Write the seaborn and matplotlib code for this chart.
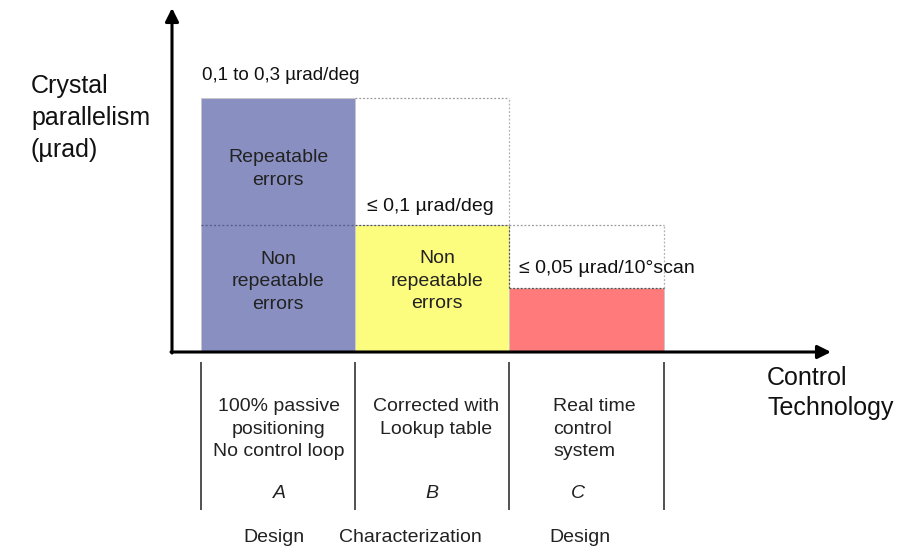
import matplotlib
matplotlib.use("Agg")
import matplotlib.pyplot as plt
import seaborn as sns
import pandas as pd
import numpy as np

# ---- data ----
categories = ["A", "B", "C"]
nonrep_level = [0.15, 0.15, 0.075]       # non repeatable error level (bar top for B, C)
repeat_part = [0.15, 0.0, 0.0]           # repeatable errors stacked on top
bar_colors = ["#8990C1", "#FCFC7E", "#FF7B7B"]
level_labels = ["0,1 to 0,3 µrad/deg", "≤ 0,1 µrad/deg", "≤ 0,05 µrad/10°scan"]
tech_labels = ["100% passive\npositioning\nNo control loop",
               "Corrected with\nLookup table",
               "Real time\ncontrol\nsystem"]
phase_labels = ["Design", "Characterization", "Design"]

totals = [a + b for a, b in zip(nonrep_level, repeat_part)]
df = pd.DataFrame({"tech": categories, "total": totals, "nonrep": nonrep_level})

sns.set_theme(style="white")
plt.rcParams["font.family"] = ["Liberation Sans", "DejaVu Sans"]

W, H = 915, 556
fig = plt.figure(figsize=(W / 100, H / 100), dpi=100)
ax = fig.add_axes([0, 0, 1, 1])

# pixel <-> data mapping of the canvas
X0, XS = 278.0, 154.3     # pixel x of category 0 centre, px per category
Y0, YS = 352.0, 846.7     # pixel y of zero, px per unit

def fx(px):
    return (px - X0) / XS

def fy(py):
    return (Y0 - py) / YS

sns.barplot(data=df, x="tech", y="total", hue="tech", palette=bar_colors,
            width=1.0, legend=False, ax=ax, saturation=1, edgecolor="#c8c8c8",
            linewidth=0.6)

ax.set_xlim(fx(0), fx(W))
ax.set_ylim(fy(H), fy(0))
ax.axis("off")

n = len(categories)
# dotted line separating repeatable / non repeatable in A and the top of B
ax.hlines(nonrep_level[0], -0.5, 0.5, colors="#5b5f8e", linestyles=(0, (1.5, 1.5)), lw=1.0)
for i in range(1, n):
    prev = totals[i - 1]
    cur = totals[i]
    # ghost box showing the level of previous technology
    ax.hlines(prev, i - 0.5, i + 0.5, colors="#9a9a9a", linestyles=(0, (1.5, 1.5)), lw=0.9)
    ax.vlines(i + 0.5, cur, prev, colors="#b0b0b0", linestyles=(0, (1.5, 1.5)), lw=0.9)
    ax.hlines(cur, i - 0.5, i + 0.5, colors="#555555", linestyles=(0, (1.5, 1.5)), lw=0.9)
ax.vlines(1.5, totals[2], totals[1], colors="#555555", linestyles=(0, (1.5, 1.5)), lw=0.9)

# axes arrows
ax.annotate("", xy=(fx(172), fy(8)), xytext=(fx(172), fy(353)),
            arrowprops=dict(arrowstyle="-|>", color="black", lw=2.2, mutation_scale=20,
                            shrinkA=0, shrinkB=0))
ax.annotate("", xy=(fx(831), fy(352)), xytext=(fx(171), fy(352)),
            arrowprops=dict(arrowstyle="-|>", color="black", lw=2.2, mutation_scale=20,
                            shrinkA=0, shrinkB=0))

# axis titles
ax.text(fx(31), fy(118), "Crystal\nparallelism\n(µrad)", ha="left", va="center",
        fontsize=18, color="#111111", linespacing=1.4)
ax.text(fx(767), fy(393), "Control\nTechnology", ha="left", va="center",
        fontsize=18, color="#111111", linespacing=1.36)

# level annotations above the bars
ax.text(-0.5 + 0.01, totals[0] + fy(76) - fy(98), level_labels[0], ha="left", va="center",
        fontsize=13.5, color="#111111")
ax.text(fx(367), totals[1] + fy(207) - fy(225), level_labels[1], ha="left", va="center",
        fontsize=14, color="#111111")
ax.text(fx(519), totals[2] + fy(268) - fy(288), level_labels[2], ha="left", va="center",
        fontsize=14, color="#111111")

# in-bar labels
ax.text(0.0, fy(169), "Repeatable\nerrors",
        ha="center", va="center", fontsize=14, color="#222222", linespacing=1.45)
ax.text(0.0, fy(282), "Non\nrepeatable\nerrors", ha="center", va="center",
        fontsize=14, color="#222222", linespacing=1.45)
ax.text(fx(437), fy(281), "Non\nrepeatable\nerrors", ha="center", va="center",
        fontsize=14, color="#222222", linespacing=1.45)

# lower section: dividers, technology descriptions, letters, phases
for k in range(n + 1):
    ax.vlines(k - 0.5, fy(510), fy(362), colors="#333333", lw=1.2)

ax.text(fx(279), fy(429), tech_labels[0], ha="center", va="center", fontsize=14,
        color="#222222", linespacing=1.45)
ax.text(fx(436), fy(418), tech_labels[1], ha="center", va="center", fontsize=14,
        color="#222222", linespacing=1.45)
ax.text(fx(553), fy(429), tech_labels[2], ha="left", va="center", fontsize=14,
        color="#222222", linespacing=1.45)

letter_x = [279, 432, 578]
for lab, xp in zip(categories, letter_x):
    ax.text(fx(xp), fy(493), lab, ha="center", va="center", fontsize=14,
            style="italic", color="#222222")

phase_x = [274, 410, 580]
for lab, xp in zip(phase_labels, phase_x):
    ax.text(fx(xp), fy(538), lab, ha="center", va="center", fontsize=14, color="#222222")

fig.savefig("out.png", dpi=100, facecolor="white")
